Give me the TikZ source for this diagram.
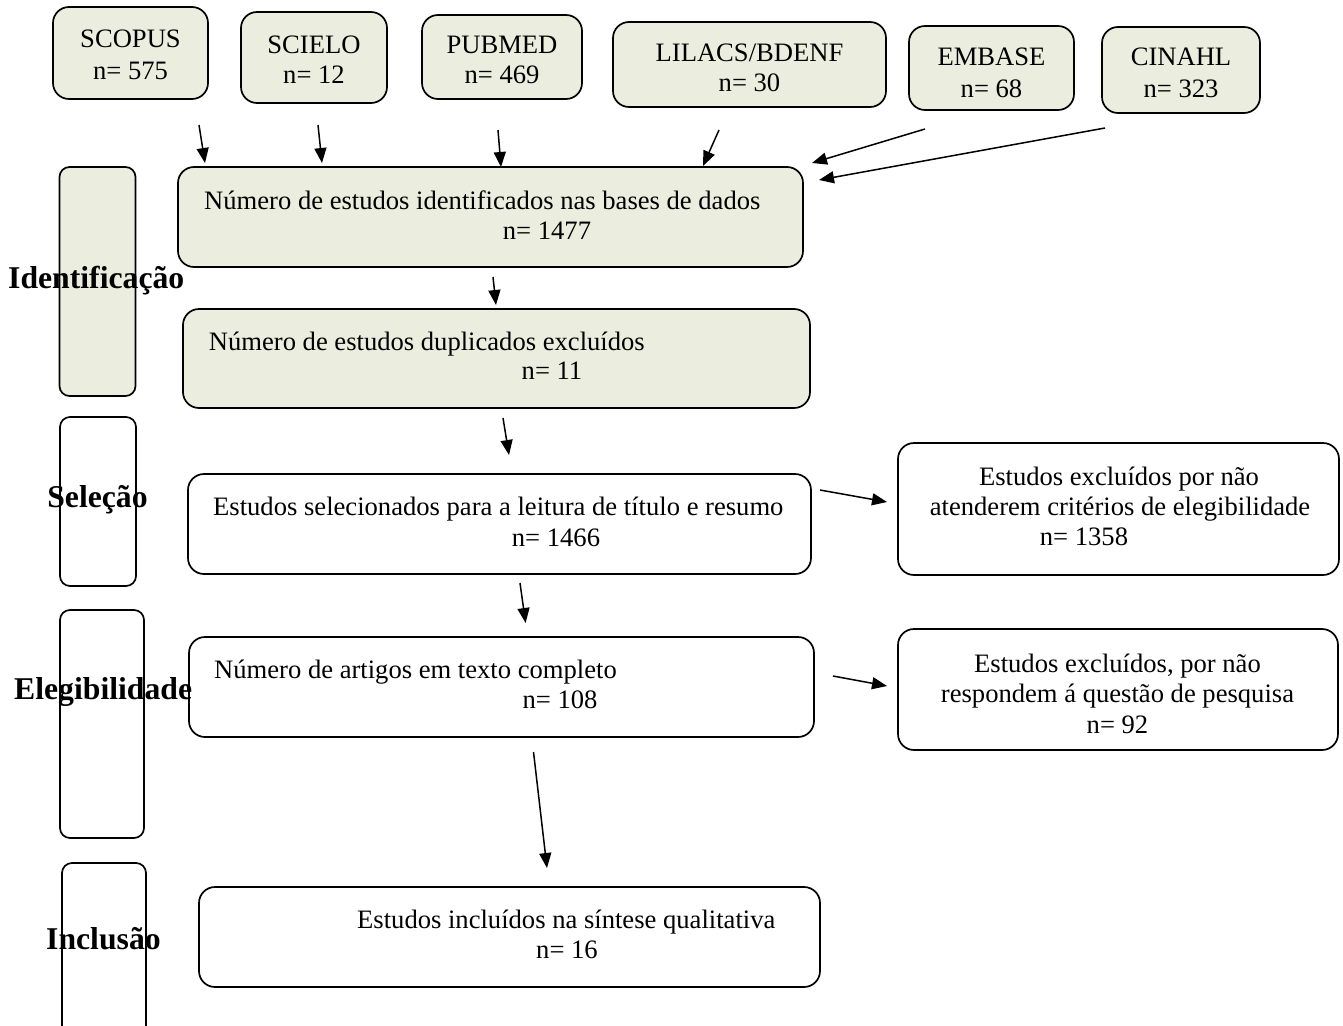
\documentclass[tikz,border=0pt]{standalone}
\usepackage{fontspec}
\setmainfont{Liberation Serif}
\usetikzlibrary{arrows.meta}
\definecolor{idfill}{RGB}{235,238,222}
\begin{document}
\begin{tikzpicture}[x=1pt,y=-1pt,
  box/.style={draw, line width=1.7pt, rounded corners=16pt, inner sep=0pt},
  gbox/.style={box, fill=idfill},
  side/.style={draw, line width=1.7pt, rounded corners=10pt, inner sep=0pt},
  txt/.style={inner sep=0pt, font=\fontsize{26.6}{30.6}\selectfont},
  lbl/.style={inner sep=0pt, font=\fontsize{31.7}{36}\selectfont\bfseries},
  arr/.style={-{Triangle[length=15pt,width=12pt]}, line width=1.5pt}]
\useasboundingbox[fill=white] (0,0) rectangle (1343,1025);

% top database boxes
\node[gbox, minimum width=155pt, minimum height=92pt] (scopus) at (130.5,53) {};
\node[gbox, minimum width=146pt, minimum height=91pt] (scielo) at (314,57.5) {};
\node[gbox, minimum width=160pt, minimum height=84pt] (pubmed) at (502,57) {};
\node[gbox, minimum width=273pt, minimum height=85pt] (lilacs) at (749.5,64.5) {};
\node[gbox, minimum width=165pt, minimum height=84pt] (embase) at (991.5,68) {};
\node[gbox, minimum width=158pt, minimum height=86pt] (cinahl) at (1181,70) {};

\node[txt, anchor=base] (scopusA) at (130.5,48) {SCOPUS};
\node[txt, anchor=base] (scopusB) at (130.5,79) {n= 575};
\node[txt, anchor=base] (scieloA) at (314,53) {SCIELO};
\node[txt, anchor=base] (scieloB) at (314,83) {n= 12};
\node[txt, anchor=base] (pubmedA) at (502,54) {PUBMED};
\node[txt, anchor=base] (pubmedB) at (502,83) {n= 469};
\node[txt, anchor=base] (lilacsA) at (749.5,62) {LILACS/BDENF};
\node[txt, anchor=base] (lilacsB) at (749.5,92) {n= 30};
\node[txt, anchor=base] (embaseA) at (991.5,66) {EMBASE};
\node[txt, anchor=base] (embaseB) at (991.5,97) {n= 68};
\node[txt, anchor=base] (cinahlA) at (1181,66) {CINAHL};
\node[txt, anchor=base] (cinahlB) at (1181,97) {n= 323};

% side stage boxes
\node[side, fill=idfill, minimum width=76pt, minimum height=229pt] (s1) at (97.5,281.5) {};
\node[side, minimum width=76pt, minimum height=169pt] (s2) at (98,501.5) {};
\node[side, minimum width=84pt, minimum height=228pt] (s3) at (102,724) {};
\node[side, minimum width=84pt, minimum height=182pt] (s4) at (104,954) {};

% main boxes
\node[gbox, minimum width=625pt, minimum height=100pt] (b1) at (490.5,217) {};
\node[gbox, minimum width=627pt, minimum height=99pt] (b2) at (496.5,358.5) {};
\node[box, minimum width=623pt, minimum height=100pt] (b3) at (499.5,524) {};
\node[box, minimum width=625pt, minimum height=100pt] (b4) at (501.5,687) {};
\node[box, minimum width=621pt, minimum height=100pt] (b5) at (509.5,937) {};
\node[box, minimum width=441pt, minimum height=132pt] (r1) at (1118.5,509) {};
\node[box, minimum width=440pt, minimum height=121pt] (r2) at (1118,689.5) {};

% stage labels
\node[lbl, anchor=base west] (l1) at (8,288) {Identificação};
\node[lbl, anchor=base] (l2) at (97.5,507) {Seleção};
\node[lbl, anchor=base west] (l3) at (14,699) {Elegibilidade};
\node[lbl, anchor=base west] (l4) at (46,949) {Inclusão};

% box texts
\node[txt, anchor=base west] (t1a) at (204,209) {Número de estudos identificados nas bases de dados};
\node[txt, anchor=base] (t1b) at (547,239) {n= 1477};
\node[txt, anchor=base west] (t2a) at (208.7,350) {Número de estudos duplicados excluídos};
\node[txt, anchor=base] (t2b) at (552,379) {n= 11};
\node[txt, anchor=base west] (t3a) at (213,515) {Estudos selecionados para a leitura de título e resumo};
\node[txt, anchor=base] (t3b) at (556,546) {n= 1466};
\node[txt, anchor=base west] (t4a) at (214,678) {Número de artigos em texto completo};
\node[txt, anchor=base] (t4b) at (560,708) {n= 108};
\node[txt, anchor=base west] (t5a) at (357,928) {Estudos incluídos na síntese qualitativa};
\node[txt, anchor=base] (t5b) at (567,958) {n= 16};
\node[txt, anchor=base] (r1a) at (1119,485) {Estudos excluídos por não};
\node[txt, anchor=base] (r1b) at (1120,515) {atenderem critérios de elegibilidade};
\node[txt, anchor=base] (r1c) at (1084,545) {n= 1358};
\node[txt, anchor=base] (r2a) at (1117.5,672) {Estudos excluídos, por não};
\node[txt, anchor=base] (r2b) at (1117.5,702) {respondem á questão de pesquisa};
\node[txt, anchor=base] (r2c) at (1117.5,733) {n= 92};

% arrow end points
\coordinate (a1s) at (199,125);  \coordinate (a1e) at (205,163);
\coordinate (a2s) at (318,125);  \coordinate (a2e) at (322,163);
\coordinate (a3s) at (498,130);  \coordinate (a3e) at (501,167);
\coordinate (a4s) at (719,130);  \coordinate (a4e) at (703,166);
\coordinate (a5s) at (925,129);  \coordinate (a5e) at (812,163);
\coordinate (a6s) at (1105,128); \coordinate (a6e) at (819,180);
\coordinate (a7s) at (493,277);  \coordinate (a7e) at (496,305);
\coordinate (a8s) at (503,418);  \coordinate (a8e) at (509,455);
\coordinate (a9s) at (820,490);  \coordinate (a9e) at (887,502);
\coordinate (a10s) at (520,583); \coordinate (a10e) at (525.6,623);
\coordinate (a11s) at (833,676); \coordinate (a11e) at (887,686);
\coordinate (a12s) at (533.5,752); \coordinate (a12e) at (547,868);

\foreach \i in {1,...,12} {\draw[arr] (a\i s) -- (a\i e);}
\end{tikzpicture}
\end{document}
